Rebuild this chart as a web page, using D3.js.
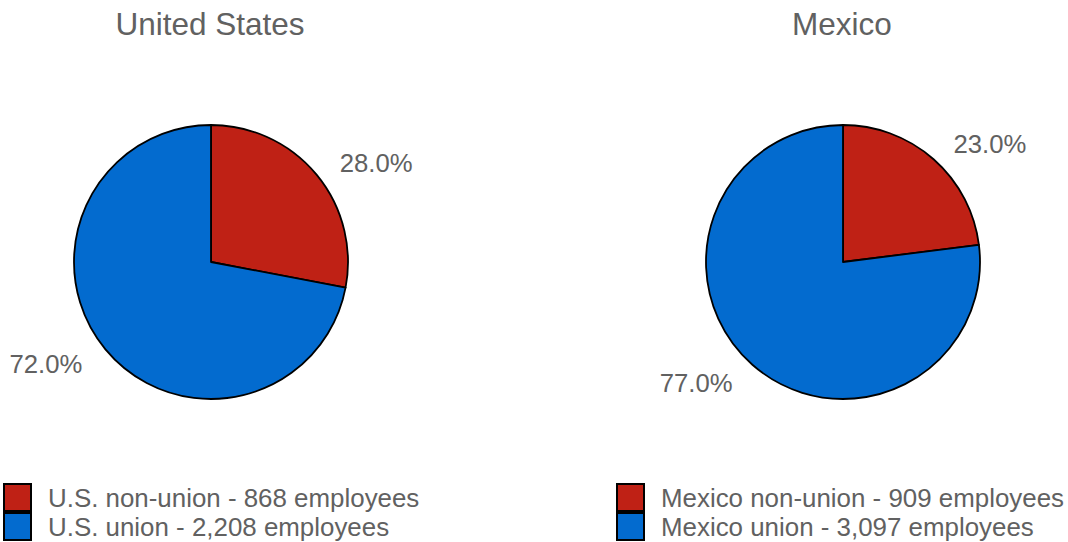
<!DOCTYPE html>
<html>
<head>
<meta charset="utf-8">
<script src="https://cdn.jsdelivr.net/npm/d3@7"></script>
<style>
  body { margin: 0; background: #fff; }
  svg { display: block; font-family: "Liberation Sans", Arial, sans-serif; }
</style>
</head>
<body>
<div id="chart"></div>
<script>
// chart data
const countries = ["United States", "Mexico"];
const segments = ["non-union", "union"];
const usShares = [28.0, 72.0];
const mxShares = [23.0, 77.0];
const usEmployees = [868, 2208];
const mxEmployees = [909, 3097];
const legendPrefixes = ["U.S.", "Mexico"];

const width = 1068, height = 542;
const colors = ["#bf2115", "#036bcf"];
const textColor = "#616161";

const svg = d3.select("#chart").append("svg")
    .attr("width", width)
    .attr("height", height);

const panels = [
    { title: countries[0], shares: usShares, counts: usEmployees, prefix: legendPrefixes[0], cx: 211, legendX: 4 },
    { title: countries[1], shares: mxShares, counts: mxEmployees, prefix: legendPrefixes[1], cx: 843, legendX: 617 }
];

const cy = 262;
const radius = 137;
const labelRadius = 167;

const pie = d3.pie().sort(null).value(d => d);
const arc = d3.arc().innerRadius(0).outerRadius(radius);
const labelArc = d3.arc().innerRadius(labelRadius).outerRadius(labelRadius);
const fmt = d3.format(".1f");
const num = d3.format(",");

panels.forEach(p => {
    // title
    svg.append("text")
        .attr("x", p.cx - 1)
        .attr("y", 24)
        .attr("text-anchor", "middle")
        .attr("dominant-baseline", "central")
        .attr("fill", textColor)
        .attr("font-size", 31.5)
        .text(p.title);

    const g = svg.append("g").attr("transform", `translate(${p.cx},${cy})`);
    const arcs = pie(p.shares);

    g.selectAll("path")
        .data(arcs)
        .enter()
        .append("path")
        .attr("d", arc)
        .attr("fill", (d, i) => colors[i])
        .attr("stroke", "#000")
        .attr("stroke-width", 1.8)
        .attr("stroke-linejoin", "round");

    g.selectAll("text.lbl")
        .data(arcs)
        .enter()
        .append("text")
        .attr("class", "lbl")
        .each(function (d) {
            const [x, y] = labelArc.centroid(d);
            d3.select(this)
                .attr("x", x)
                .attr("y", y + (y < 0 ? 7.5 : -4.5))
                .attr("text-anchor", x >= 0 ? "start" : "end");
        })
        .attr("dominant-baseline", "central")
        .attr("fill", textColor)
        .attr("font-size", 25.7)
        .text(d => fmt(d.data) + "%");

    // legend
    const lg = svg.append("g").attr("transform", `translate(${p.legendX},484)`);
    segments.forEach((s, i) => {
        lg.append("rect")
            .attr("x", 0)
            .attr("y", i * 29)
            .attr("width", 27)
            .attr("height", 27)
            .attr("fill", colors[i])
            .attr("stroke", "#000")
            .attr("stroke-width", 2);
        lg.append("text")
            .attr("x", 44)
            .attr("y", i * 29 + 14)
            .attr("dominant-baseline", "central")
            .attr("fill", textColor)
            .attr("font-size", 25.9)
            .text(`${p.prefix} ${s} - ${num(p.counts[i])} employees`);
    });
});
</script>
</body>
</html>
